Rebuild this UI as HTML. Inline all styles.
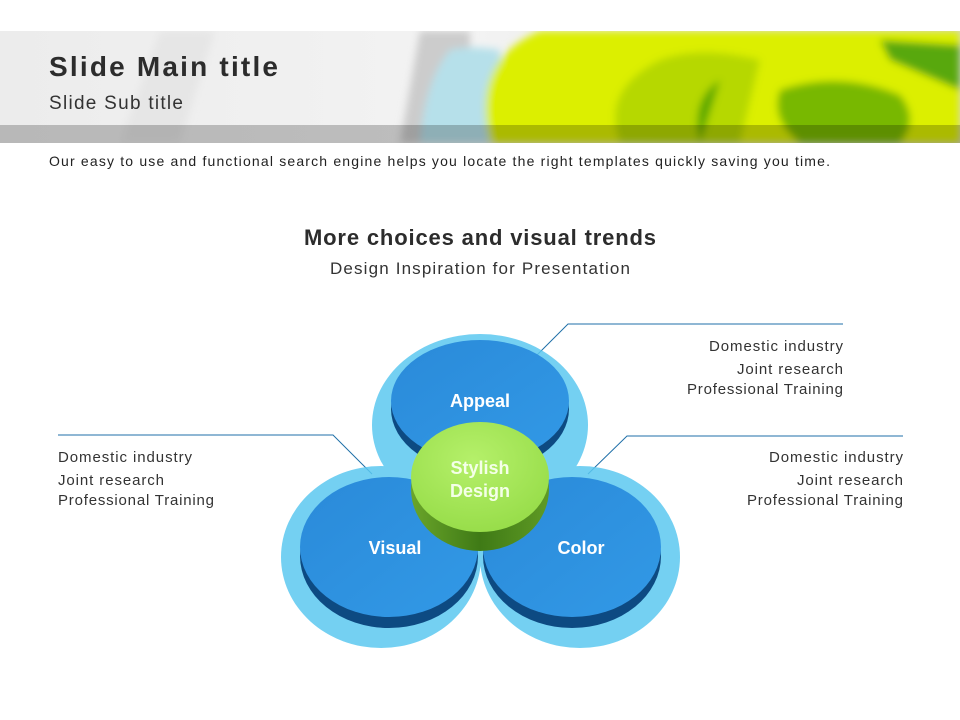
<!DOCTYPE html>
<html><head><meta charset="utf-8"><style>
html,body{margin:0;padding:0;background:#fff}
body{width:960px;height:720px;overflow:hidden;position:relative;font-family:"Liberation Sans",sans-serif}
</style></head><body>
<svg width="960" height="720" viewBox="0 0 960 720" xmlns="http://www.w3.org/2000/svg" style="position:absolute;left:0;top:0">
<defs>
<linearGradient id="bgL" x1="0" x2="1" y1="0" y2="0">
<stop offset="0" stop-color="#ececec"/><stop offset="0.5" stop-color="#f3f3f3"/><stop offset="1" stop-color="#d8d8d8"/></linearGradient>
<filter id="bl" x="-20%" y="-20%" width="140%" height="140%"><feGaussianBlur stdDeviation="4"/></filter>
<clipPath id="ban"><rect x="0" y="31" width="960" height="112"/></clipPath>
<radialGradient id="gTop" cx="0.45" cy="0.35" r="0.7"><stop offset="0" stop-color="#b5f06a"/><stop offset="1" stop-color="#96dc48"/></radialGradient>
<linearGradient id="gSide" x1="0" x2="1"><stop offset="0" stop-color="#6aa52a"/><stop offset="0.5" stop-color="#3f7a16"/><stop offset="1" stop-color="#5f9a24"/></linearGradient>
<linearGradient id="bTop" x1="0" x2="1" y1="0" y2="1"><stop offset="0" stop-color="#2a8ad9"/><stop offset="1" stop-color="#3299e6"/></linearGradient>
</defs>
<g clip-path="url(#ban)">
<rect x="0" y="31" width="960" height="112" fill="url(#bgL)"/>
<g filter="url(#bl)">
<path d="M160 31 L215 31 L180 143 L120 143Z" fill="#e6e6e6"/>
<path d="M420 31 L470 31 L470 143 L400 143Z" fill="#cccccc"/>
<path d="M450 50 Q470 45 500 50 L500 143 L420 143 Q425 80 450 50Z" fill="#b6e0ea"/>
<path d="M490 143 Q470 60 540 31 L960 31 L960 143Z" fill="#dcef00"/>
<path d="M620 143 Q600 90 660 60 Q700 45 760 60 L740 143Z" fill="#b6d800"/>
<path d="M700 143 Q690 100 720 80 L700 143Z" fill="#5aa800"/>
<path d="M780 90 Q840 70 900 95 Q920 120 900 143 L800 143 Q770 120 780 90Z" fill="#78b800"/>
<path d="M880 40 L960 45 L960 90 L890 60Z" fill="#58a80a"/>
</g>
<rect x="0" y="125" width="960" height="18" fill="#000" opacity="0.22"/>
</g>
<text x="49" y="76" font-size="28" font-weight="bold" fill="#2c2c2c" textLength="229">Slide Main title</text>
<text x="49" y="109" font-size="19" fill="#333" textLength="134">Slide Sub title</text>
<text x="49" y="166" font-size="14" fill="#222" textLength="781">Our easy to use and functional search engine helps you locate the right templates quickly saving you time.</text>
<text x="304" y="245" font-size="22" font-weight="bold" fill="#2c2c2c" textLength="352">More choices and visual trends</text>
<text x="330" y="274" font-size="17" fill="#333" textLength="300">Design Inspiration for Presentation</text>

<g stroke="#1f6fa8" stroke-width="1" fill="none">
<polyline points="535,357 568,324 843,324"/>
<polyline points="58,435 333,435 372,474"/>
<polyline points="588,474 627,436 903,436"/>
</g>
<g font-size="15" fill="#333">
<text x="709" y="351" textLength="134">Domestic industry</text>
<text x="737" y="374" textLength="106">Joint research</text>
<text x="687" y="394" textLength="156">Professional Training</text>
<text x="769" y="462" textLength="134">Domestic industry</text>
<text x="797" y="485" textLength="106">Joint research</text>
<text x="747" y="505" textLength="156">Professional Training</text>
<text x="58" y="462" textLength="134">Domestic industry</text>
<text x="58" y="485" textLength="106">Joint research</text>
<text x="58" y="505" textLength="156">Professional Training</text>
</g>

<g fill="#5cc8f0" opacity="0.85">
<ellipse cx="480" cy="425" rx="108" ry="91"/>
<ellipse cx="381" cy="557" rx="100" ry="91"/>
<ellipse cx="580" cy="557" rx="100" ry="91"/>
</g>
<ellipse cx="480" cy="409" rx="89" ry="63" fill="#0d4a82"/>
<ellipse cx="480" cy="401" rx="89" ry="61" fill="url(#bTop)"/>
<ellipse cx="389" cy="556" rx="89" ry="72" fill="#0d4a82"/>
<ellipse cx="389" cy="547" rx="89" ry="70" fill="url(#bTop)"/>
<ellipse cx="572" cy="556" rx="89" ry="72" fill="#0d4a82"/>
<ellipse cx="572" cy="547" rx="89" ry="70" fill="url(#bTop)"/>
<ellipse cx="480" cy="489" rx="69" ry="62" fill="url(#gSide)"/>
<ellipse cx="480" cy="477" rx="69" ry="55" fill="url(#gTop)"/>
<g font-weight="bold" fill="#fff" text-anchor="middle" font-size="18">
<text x="480" y="407">Appeal</text>
<text x="395" y="554">Visual</text>
<text x="581" y="554">Color</text>
<text x="480" y="474" fill="#f4ffe8">Stylish</text>
<text x="480" y="497" fill="#f4ffe8">Design</text>
</g>
</svg>
</body></html>
